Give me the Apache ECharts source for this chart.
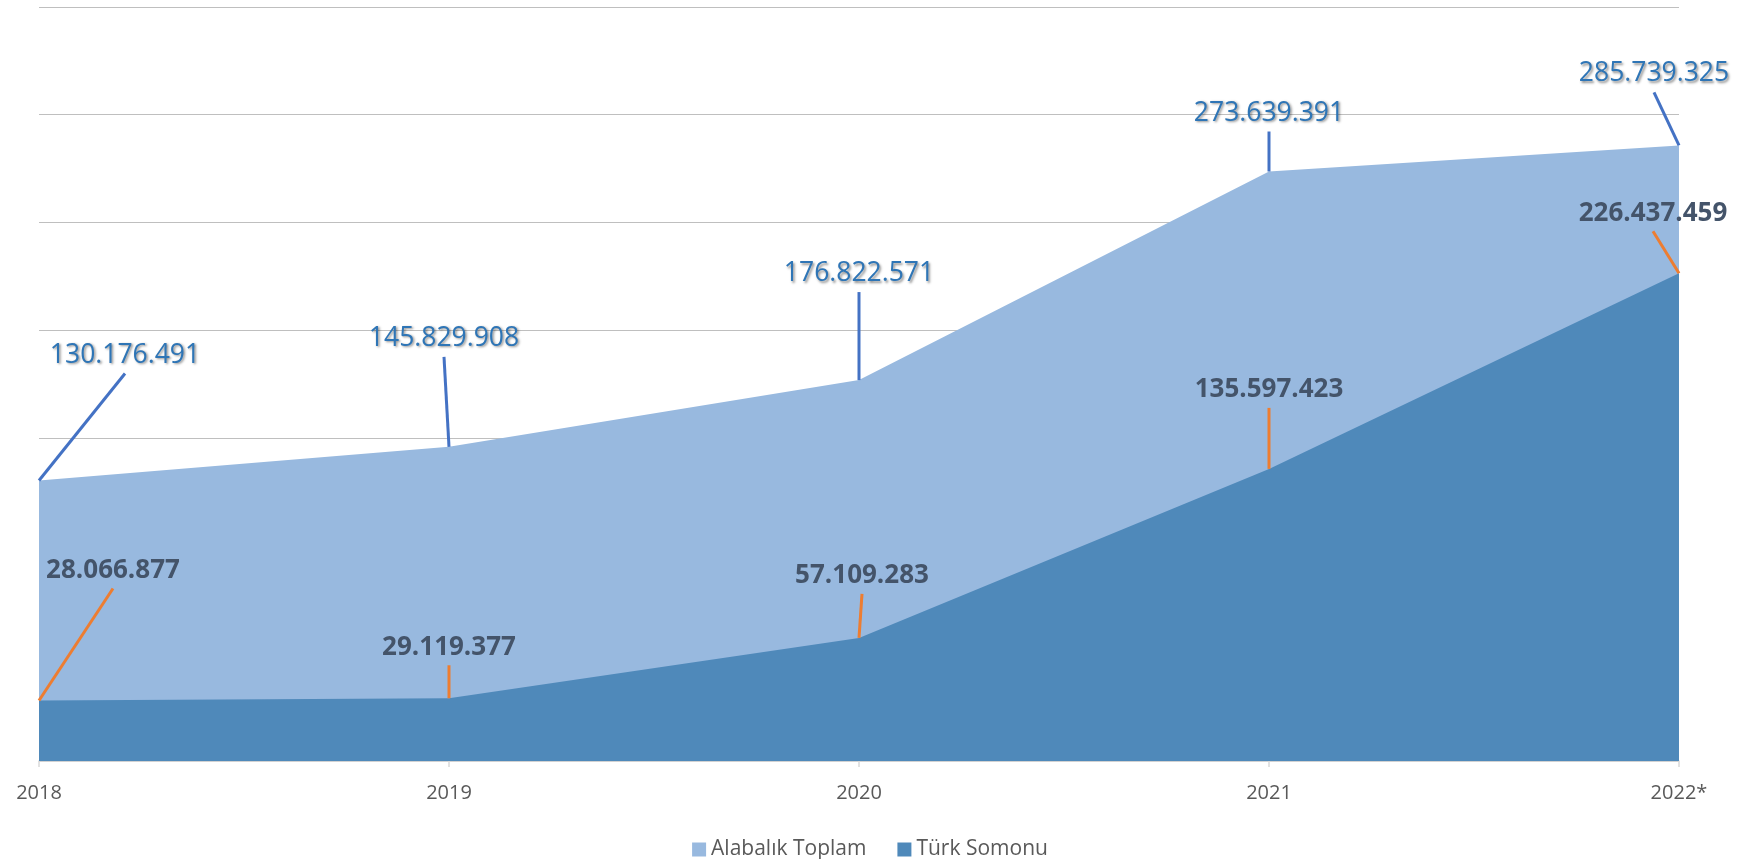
<!DOCTYPE html>
<html>
<head>
<meta charset="utf-8">
<script src="https://cdn.jsdelivr.net/npm/echarts@6/dist/echarts.min.js"></script>
<style>
html,body{margin:0;padding:0;background:#fff;}
#chart{width:1740px;height:859px;}
</style>
</head>
<body>
<div id="chart"></div>
<script>
const categories = ['2018', '2019', '2020', '2021', '2022*'];
const alabalikToplam = [130176491, 145829908, 176822571, 273639391, 285739325];
const turkSomonu = [28066877, 29119377, 57109283, 135597423, 226437459];
const seriesNames = ['Alabalık Toplam', 'Türk Somonu'];
const yMin = 0, yMax = 350000000, yInterval = 50000000;

// leader-line offsets in pixels (presentation only)
const alabalikLabelOffsets = [[86, -107], [-5, -90], [0, -88], [0, -40], [-25, -53]];
const turkLabelOffsets = [[74, -112], [0, -33], [3, -44], [0, -61], [-26, -42]];

function fmt(v) {
  return String(Math.round(v)).replace(/\B(?=(\d{3})+(?!\d))/g, '.');
}

function labelSeries(values, offsets, lineColor, textColor, weight, size, shadow) {
  return {
    type: 'custom',
    clip: false,
    z: 10,
    silent: true,
    data: values.map((v, i) => [i, v]),
    renderItem: function (params, api) {
      const p = api.coord([api.value(0), api.value(1)]);
      const off = offsets[params.dataIndex];
      const ex = p[0] + off[0], ey = p[1] + off[1];
      const style = {
        text: fmt(api.value(1)),
        fill: textColor,
        font: weight + ' ' + size + 'px "Open Sans", sans-serif',
        align: 'center',
        verticalAlign: 'bottom'
      };
      if (shadow) {
        style.textShadowColor = 'rgba(0,0,0,0.45)';
        style.textShadowBlur = 2.5;
        style.textShadowOffsetX = 1.5;
        style.textShadowOffsetY = 1.5;
      }
      return {
        type: 'group',
        children: [
          { type: 'line', shape: { x1: p[0], y1: p[1], x2: ex, y2: ey },
            style: { stroke: lineColor, lineWidth: 3 } },
          { type: 'text', x: ex, y: ey - 5, style: style }
        ]
      };
    }
  };
}

const chart = echarts.init(document.getElementById('chart'));
chart.setOption({
  animation: false,
  backgroundColor: '#ffffff',
  grid: { left: 39, right: 61, top: 7, bottom: 98, containLabel: false },
  legend: {
    data: seriesNames,
    top: 834,
    left: 'center',
    icon: 'rect',
    itemWidth: 14,
    itemHeight: 14,
    itemGap: 31,
    textStyle: { fontFamily: '"Open Sans", sans-serif', fontSize: 21, color: '#595959' }
  },
  xAxis: {
    type: 'category',
    data: categories,
    boundaryGap: false,
    axisLine: { lineStyle: { color: '#d9d9d9', width: 1.5 } },
    axisTick: { show: true, length: 6, lineStyle: { color: '#d9d9d9', width: 1.5 } },
    axisLabel: { margin: 22, fontFamily: '"Open Sans", sans-serif', fontSize: 20, color: '#595959' },
    splitLine: { show: false }
  },
  yAxis: {
    type: 'value',
    min: yMin, max: yMax, interval: yInterval,
    axisLabel: { show: false },
    axisLine: { show: false },
    axisTick: { show: false },
    splitLine: { lineStyle: { color: '#bfbfbf', width: 1.2 } }
  },
  series: [
    {
      name: seriesNames[0], type: 'line', data: alabalikToplam,
      showSymbol: false, symbol: 'none',
      lineStyle: { width: 0, color: '#98B9DF' },
      itemStyle: { color: '#98B9DF' },
      areaStyle: { color: '#98B9DF', opacity: 1 },
      z: 2
    },
    {
      name: seriesNames[1], type: 'line', data: turkSomonu,
      showSymbol: false, symbol: 'none',
      lineStyle: { width: 0, color: '#4F89BA' },
      itemStyle: { color: '#4F89BA' },
      areaStyle: { color: '#4F89BA', opacity: 1 },
      z: 3
    },
    labelSeries(alabalikToplam, alabalikLabelOffsets, '#4472C4', '#2E75B6', 'normal', 26.5, true),
    labelSeries(turkSomonu, turkLabelOffsets, '#ED7D31', '#44546A', 'bold', 26, false)
  ]
});
</script>
</body>
</html>
